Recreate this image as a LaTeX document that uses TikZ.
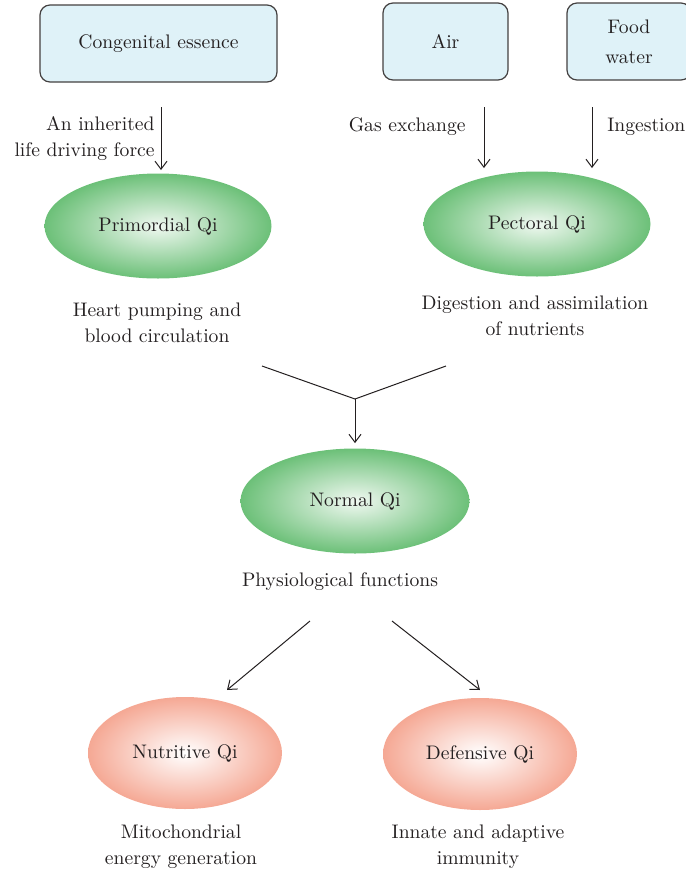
\documentclass[tikz,border=0pt]{standalone}
\usetikzlibrary{shapes.geometric,arrows.meta}
\definecolor{boxblue}{RGB}{223,242,248}
\definecolor{qigreen}{RGB}{108,192,120}
\definecolor{qired}{RGB}{245,168,148}
\definecolor{ink}{RGB}{35,31,32}
\tikzset{
  srcbox/.style={draw=ink!85,fill=boxblue,rounded corners=5pt,line width=0.6pt,
    inner sep=0pt,align=center},
  greenqi/.style={ellipse,inner sep=0pt,minimum width=113.5pt,minimum height=52.5pt,
    inner color=qigreen!10,outer color=qigreen},
  redqi/.style={ellipse,inner sep=0pt,minimum width=97pt,minimum height=56pt,
    inner color=white,outer color=qired},
  lbl/.style={align=center,inner sep=0pt},
  flow/.style={-{Straight Barb[length=4pt,width=6pt]},line width=0.5pt,draw=ink}
}
\begin{document}
\begin{tikzpicture}[x=0.5pt,y=-0.5pt,text=ink,
  every node/.append style={font=\fontsize{9.8}{13}\selectfont}]
\clip (0,0) rectangle (686,875);
%
\node[srcbox,minimum width=118.5pt,minimum height=38.5pt] (ce) at (158.5,43.5) {Congenital essence};
\node[srcbox,minimum width=62.5pt,minimum height=38.5pt] (air) at (445.5,41.5) {Air};
\node[srcbox,minimum width=62pt,minimum height=38.5pt,
  font=\fontsize{9.8}{15}\selectfont] (fw) at (629,41.5) {Food\\water};
%
\node[greenqi] (pq) at (158,226) {Primordial Qi};
\node[greenqi] (tq) at (537,224) {Pectoral Qi};
\node[greenqi,minimum width=114.5pt] (nq) at (355,501) {Normal Qi};
\node[redqi] (nu) at (185,753) {Nutritive Qi};
\node[redqi] (de) at (480,754) {Defensive Qi};
%
\node[lbl,align=right,anchor=east] (inh) at (155,138) {An inherited\\life driving force};
\node[lbl,anchor=east] (gas) at (466,127) {Gas exchange};
\node[lbl,anchor=west] (ing) at (607,127) {Ingestion};
\node[lbl] (hp) at (157,323) {Heart pumping and\\blood circulation};
\node[lbl] (dg) at (535,316) {Digestion and assimilation\\of nutrients};
\node[lbl] (pf) at (340,582) {Physiological functions};
\node[lbl] (mi) at (181,847) {Mitochondrial\\energy generation};
\node[lbl] (im) at (478,847) {Innate and adaptive\\immunity};
%
\coordinate (a1) at (161,107);
\coordinate (a2) at (161,170);
\coordinate (b1) at (484,107);
\coordinate (b2) at (484,168);
\coordinate (c1) at (592,107);
\coordinate (c2) at (592,168);
\coordinate (m1) at (262,366);
\coordinate (m2) at (446,366);
\coordinate (mj) at (355,399);
\coordinate (s0) at (310,621);
\coordinate (s1) at (227,690);
\coordinate (t0) at (392,621);
\coordinate (t1) at (480,690);
%
\draw[flow] (a1) -- (a2);
\draw[flow] (b1) -- (b2);
\draw[flow] (c1) -- (c2);
\draw[line width=0.5pt,ink] (m1) -- (mj) -- (m2);
\draw[flow,shorten >=2.5pt] (mj) -- (nq.north);
\draw[flow] (s0) -- (s1);
\draw[flow] (t0) -- (t1);
%
\end{tikzpicture}
\end{document}
